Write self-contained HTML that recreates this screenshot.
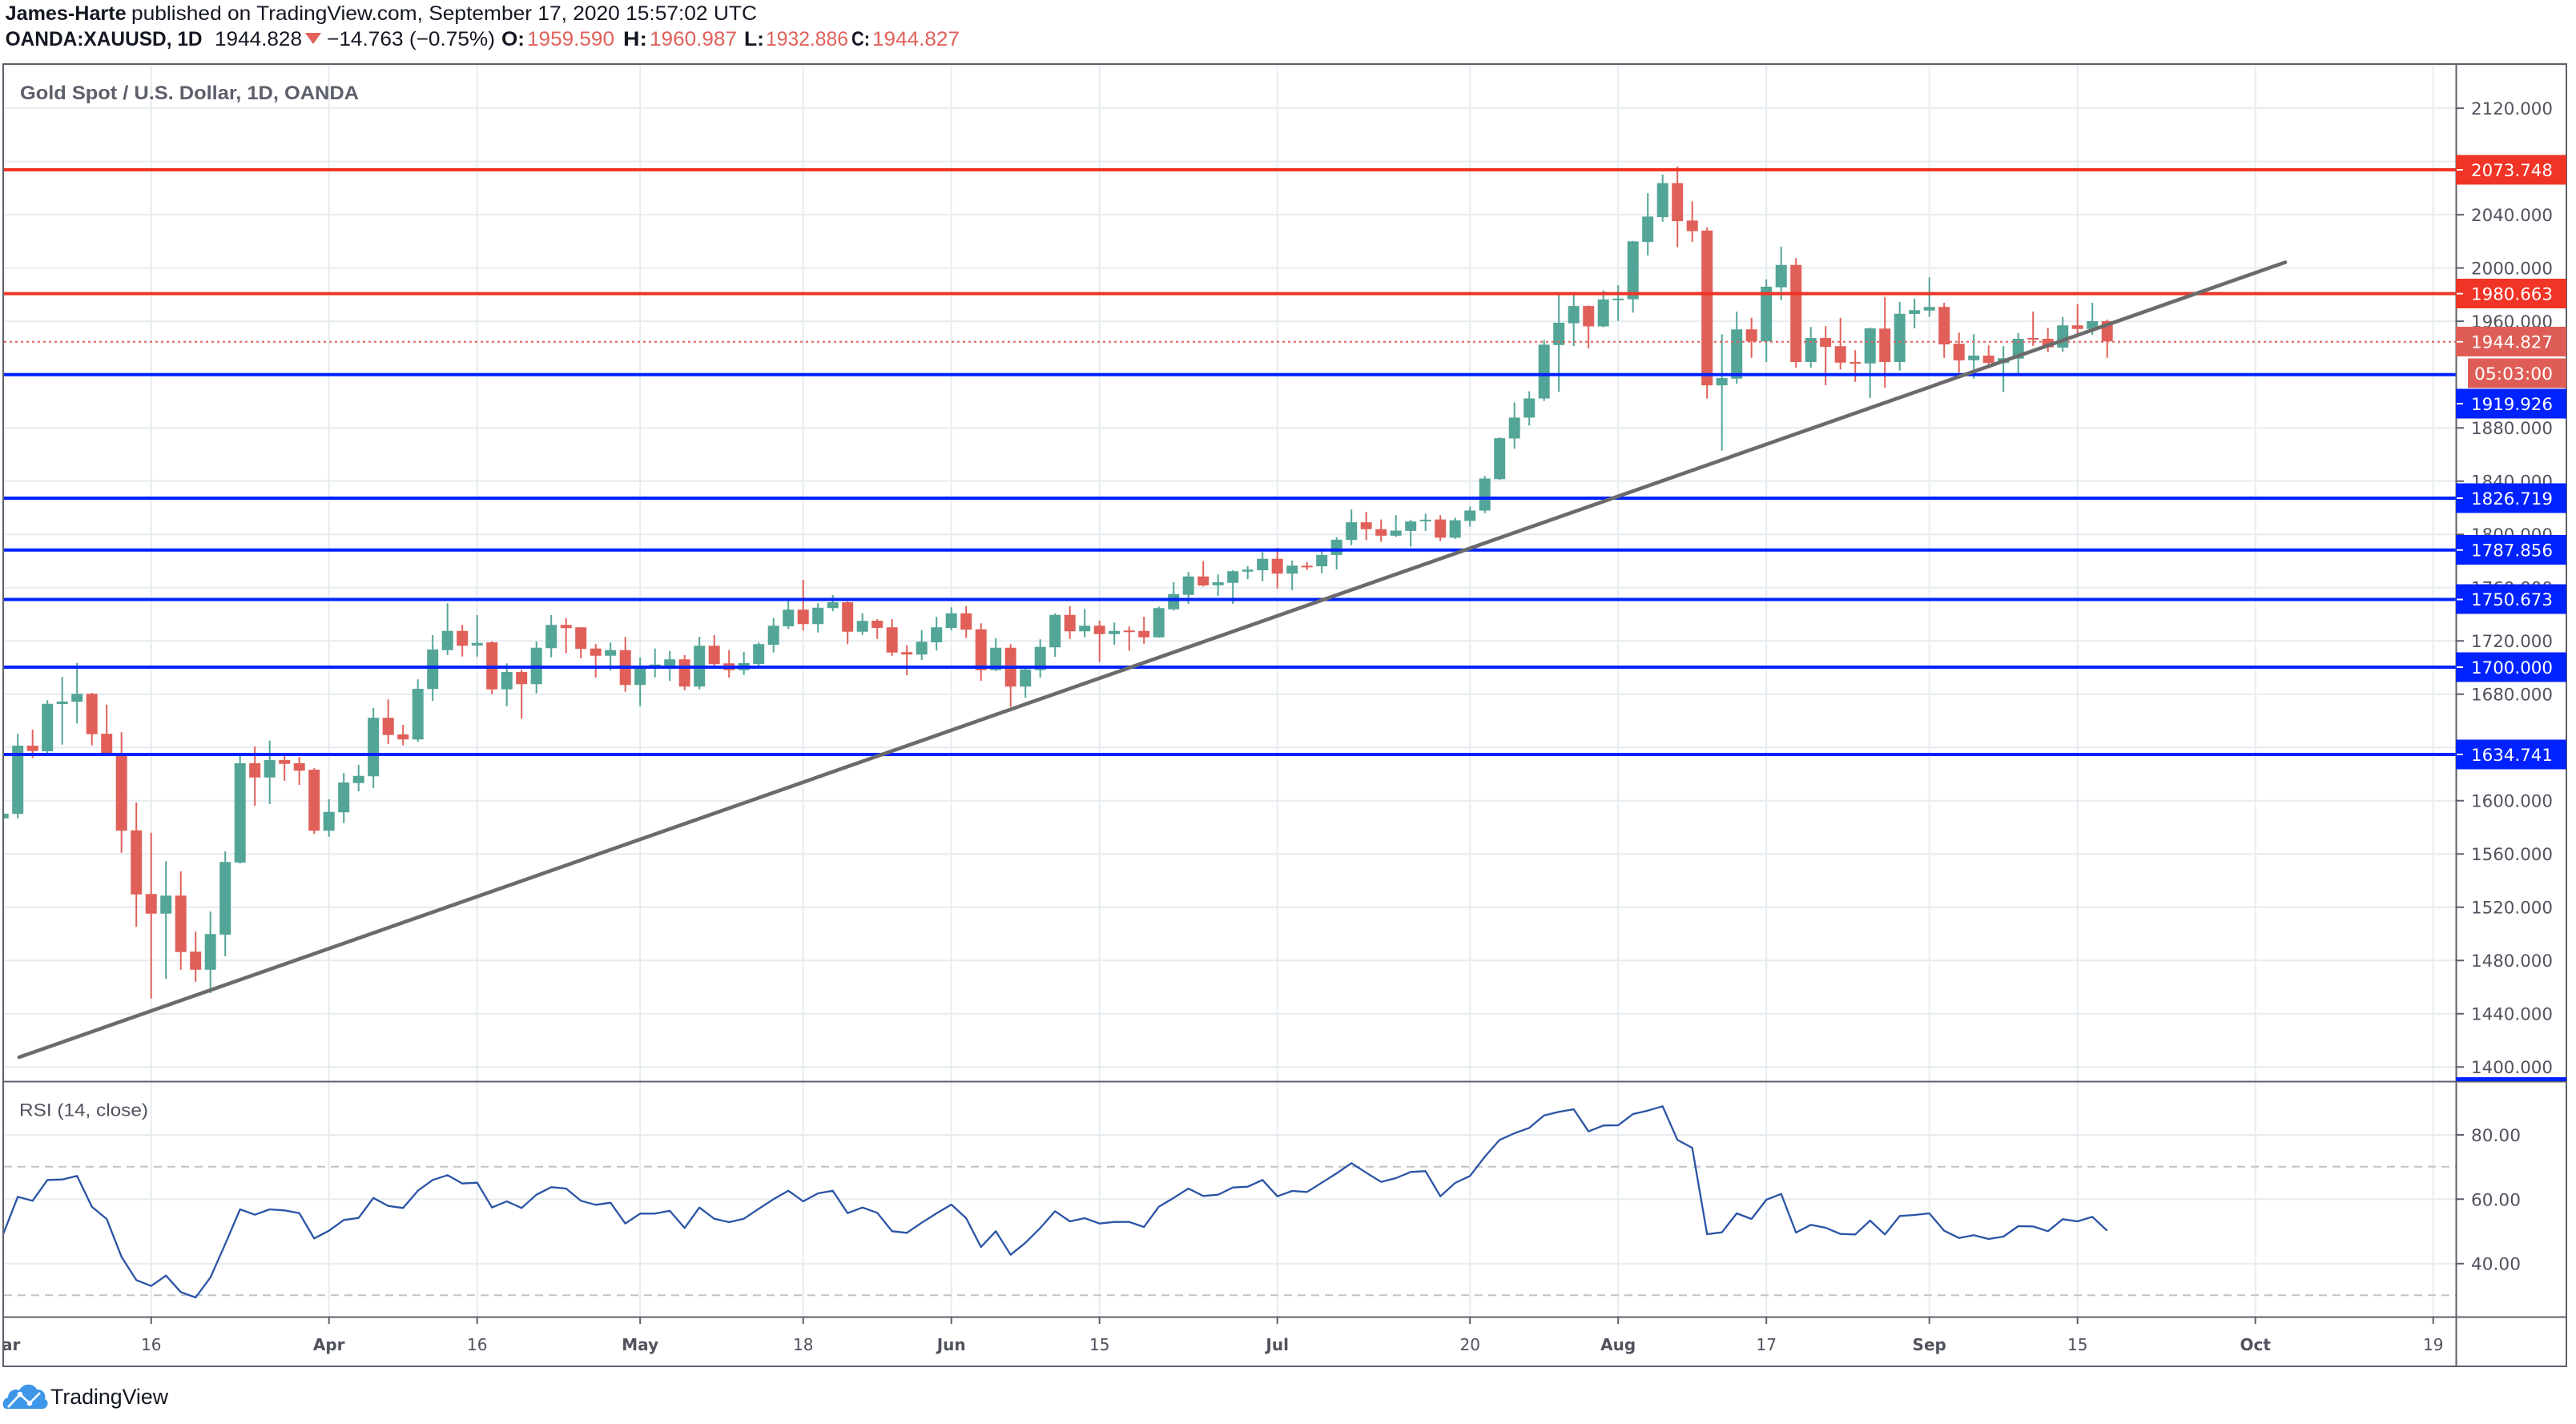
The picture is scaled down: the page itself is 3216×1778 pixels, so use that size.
<!DOCTYPE html>
<html><head><meta charset="utf-8"><style>
html,body{margin:0;padding:0;background:#fff;}
svg{display:block;}
</style></head><body>
<svg width="3216" height="1778" viewBox="0 0 3216 1778" xmlns="http://www.w3.org/2000/svg">
<defs>
<clipPath id="cm"><rect x="5" y="81" width="3061" height="1268"/></clipPath>
<clipPath id="cr"><rect x="5" y="1351" width="3061" height="292"/></clipPath>
<clipPath id="ct"><rect x="5" y="1645" width="3061" height="60"/></clipPath>
<clipPath id="ca"><rect x="3067" y="81" width="137" height="1268"/></clipPath>
</defs>
<rect width="3216" height="1778" fill="#fff"/>

<!-- Header -->
<g font-family="Liberation Sans, Arial, sans-serif" font-size="25" fill="#131722">
<text x="6.6" y="25" font-weight="bold" textLength="151" lengthAdjust="spacingAndGlyphs">James-Harte</text>
<text x="164" y="25" textLength="781" lengthAdjust="spacingAndGlyphs">published on TradingView.com, September 17, 2020 15:57:02 UTC</text>
<text x="6.6" y="57" font-weight="bold" textLength="246" lengthAdjust="spacingAndGlyphs">OANDA:XAUUSD, 1D</text>
<text x="268" y="57" textLength="109" lengthAdjust="spacingAndGlyphs">1944.828</text>
<text x="408" y="57" textLength="210" lengthAdjust="spacingAndGlyphs">−14.763 (−0.75%)</text>
<text x="626" y="57" font-weight="bold" textLength="29" lengthAdjust="spacingAndGlyphs">O:</text>
<text x="658" y="57" fill="#e0605a" textLength="109" lengthAdjust="spacingAndGlyphs">1959.590</text>
<text x="778" y="57" font-weight="bold" textLength="30" lengthAdjust="spacingAndGlyphs">H:</text>
<text x="811" y="57" fill="#e0605a" textLength="109" lengthAdjust="spacingAndGlyphs">1960.987</text>
<text x="929" y="57" font-weight="bold" textLength="25" lengthAdjust="spacingAndGlyphs">L:</text>
<text x="956" y="57" fill="#e0605a" textLength="103" lengthAdjust="spacingAndGlyphs">1932.886</text>
<text x="1063" y="57" font-weight="bold" textLength="23" lengthAdjust="spacingAndGlyphs">C:</text>
<text x="1089" y="57" fill="#e0605a" textLength="109" lengthAdjust="spacingAndGlyphs">1944.827</text>
</g>
<polygon points="381,41 401,41 391,55" fill="#e0605a"/>

<!-- Grid -->
<g stroke="#e6ecf0" stroke-width="2">
<path d="M5 135.1H3066M5 201.6H3066M5 268.1H3066M5 334.6H3066M5 401.1H3066M5 467.6H3066M5 534.2H3066M5 600.7H3066M5 667.2H3066M5 733.7H3066M5 800.2H3066M5 866.7H3066M5 933.2H3066M5 999.7H3066M5 1066.2H3066M5 1132.8H3066M5 1199.3H3066M5 1265.8H3066M5 1332.3H3066"/>
<path d="M5 1417H3066M5 1497.3H3066M5 1577.7H3066"/>
<path d="M188.7 81V1644M410.7 81V1644M595.7 81V1644M799.2 81V1644M1002.7 81V1644M1187.7 81V1644M1372.7 81V1644M1594.7 81V1644M1835.2 81V1644M2020.2 81V1644M2205.2 81V1644M2408.7 81V1644M2593.7 81V1644M2815.7 81V1644M3037.7 81V1644"/>
</g>
<g stroke="#c2c4c8" stroke-width="2" stroke-dasharray="10 7">
<path d="M5 1456.7H3066M5 1617.3H3066"/>
</g>

<!-- Main pane series -->
<g clip-path="url(#cm)">
<g stroke="#53a597" stroke-width="2" fill="none">
<path d="M3.7 1014V1022M22.2 916.3V1021.7M59.2 874.3V941M77.7 845.3V929.7M96.2 827.7V903.3M207.2 1075.3V1222.3M262.7 1138.3V1240M281.2 1063V1194M299.7 941.7V1078.3M336.7 924.7V1004M410.7 998V1044.7M429.2 965.3V1027.7M447.7 955V988M466.2 884V983.7M521.7 848.3V926.3M540.2 793V875.3M558.7 753.3V817.7M595.7 768V819.7M632.7 828.3V881.7M669.7 801V865.7M688.2 768V820.7M762.2 802.3V837.3M799.2 821V881.7M817.7 809.7V845.7M836.2 813V850.3M873.2 795V860.7M928.7 814V842.7M947.2 802.3V834.7M965.7 771.7V814.7M984.2 747V785.3M1021.2 753V789.7M1039.7 743V763.3M1076.7 765.7V792.7M1150.7 786.7V824M1169.2 770.3V812.3M1187.7 758.3V787.3M1243.2 797V837.7M1280.2 831.7V871M1298.7 798.3V846M1317.2 765.7V820M1354.2 760.3V795.7M1391.2 777.3V805M1446.7 757.3V796.3M1465.2 726.7V762.3M1483.7 714.3V754M1520.7 717.3V744M1539.2 712V754M1557.7 707V723.3M1576.2 689.3V725.7M1613.2 700V737M1650.2 687.5V716.1M1668.7 670.7V711.1M1687.2 636.1V680.7M1742.7 643.2V670.4M1761.2 648.9V682.5M1779.7 641.4V662.9M1816.7 646.4V672.9M1835.2 632.5V657.5M1853.7 594.3V640.7M1872.2 546.1V599.3M1890.7 502.5V560.4M1909.2 488.6V531.4M1927.7 424.3V500.7M1946.2 365V489.3M1964.7 365V432.1M2001.7 362.5V408.6M2020.2 356.1V400.7M2038.7 300.7V390.4M2057.2 241.1V318.9M2075.7 217.9V276.8M2149.7 417.5V562.5M2168.2 389.3V479M2205.2 348.7V452M2223.7 308V374.7M2260.7 408.3V459.3M2334.7 409V496.7M2371.7 377V462.7M2390.2 372.7V410M2408.7 346.3V395.7M2464.2 417.3V472.7M2501.2 432.3V489.3M2519.7 415.7V467.3M2575.2 395.7V439.3M2612.2 378V418.3"/>
</g>
<g stroke="#e06059" stroke-width="2" fill="none">
<path d="M40.7 911V946.3M114.7 865V930.7M133.2 879.7V944.3M151.7 914.3V1064.7M170.2 1002V1157.3M188.7 1039.7V1246.7M225.7 1088V1210.7M244.2 1163.3V1225.7M318.2 932V1006M355.2 942V974.7M373.7 945.3V980M392.2 959.3V1041.3M484.7 873.3V928.7M503.2 905V930.7M577.2 780.3V819.7M614.2 800.7V866.7M651.2 836V897.3M706.7 772V815.7M725.2 783.3V822M743.7 804.3V846M780.7 795.3V863.7M854.7 818V861.7M891.7 793V831.7M910.2 811.7V846M1002.7 724V787.3M1058.2 751V804.3M1095.2 773V797.7M1113.7 773V818.7M1132.2 805.7V843M1206.2 757V796.7M1224.7 778.3V850M1261.7 804.3V882.7M1335.7 757V797.7M1372.7 775V826.3M1409.7 782.3V812.3M1428.2 770V804M1502.2 700.7V732.3M1594.7 684V735M1631.7 701.8V711.8M1705.7 639.3V674.3M1724.2 648.6V676.4M1798.2 643.2V675.4M1983.2 381.4V435M2094.2 207.9V308.6M2112.7 251.4V302.1M2131.2 283.9V497.5M2186.7 396.7V446.7M2242.2 322.3V459.3M2279.2 407.3V481M2297.7 396.7V461.3M2316.2 437.3V476.7M2353.2 371.3V484M2427.2 378V446.7M2445.7 415.3V465.3M2482.7 431.3V460M2538.2 389V431.7M2556.7 409.3V439.7M2593.7 380V421.3M2630.7 399V446.7"/>
</g>
<path fill="#53a597" d="M-3.3 1016h14v5.7h-14zM15.2 931h14v85.3h-14zM52.2 878.7h14v59.3h-14zM70.7 876h14v3h-14zM89.2 866.3h14v10h-14zM200.2 1118.3h14v22.4h-14zM255.7 1166.3h14v44.4h-14zM274.2 1076.3h14v90.7h-14zM292.7 953h14v124h-14zM329.7 949h14v21.7h-14zM403.7 1013.7h14v23.6h-14zM422.2 977h14v37.3h-14zM440.7 968.7h14v9h-14zM459.2 896.3h14v73h-14zM514.7 860h14v63.3h-14zM533.2 811h14v49.3h-14zM551.7 787.7h14v24h-14zM588.7 802.7h14v3.3h-14zM625.7 839h14v21.7h-14zM662.7 808.7h14v45.6h-14zM681.2 780.3h14v29h-14zM755.2 811.7h14v7h-14zM792.2 831h14v24.3h-14zM810.7 829.7h14v2.3h-14zM829.2 823.3h14v8.7h-14zM866.2 806.3h14v51h-14zM921.7 828h14v8.7h-14zM940.2 804.3h14v24.7h-14zM958.7 781.3h14v23.7h-14zM977.2 761.3h14v20.7h-14zM1014.2 758.7h14v20.6h-14zM1032.7 752h14v7.3h-14zM1069.7 775.3h14v13.4h-14zM1143.7 801.3h14v16h-14zM1162.2 783.3h14v18.7h-14zM1180.7 765.7h14v18.3h-14zM1236.2 808.7h14v28h-14zM1273.2 835.7h14v21.6h-14zM1291.7 807.7h14v29h-14zM1310.2 767.7h14v40.6h-14zM1347.2 781.3h14v7h-14zM1384.2 787.7h14v4h-14zM1439.7 759.3h14v36.4h-14zM1458.2 741.7h14v19h-14zM1476.7 719.7h14v23h-14zM1513.7 727h14v3.7h-14zM1532.2 713.3h14v14.4h-14zM1550.7 711.3h14v2.4h-14zM1569.2 697.7h14v14.3h-14zM1606.2 706.3h14v10h-14zM1643.2 692.9h14v14.2h-14zM1661.7 673.9h14v19h-14zM1680.2 652.1h14v22.2h-14zM1735.7 662.5h14v6.4h-14zM1754.2 651.1h14v11.8h-14zM1772.7 648.9h14v2h-14zM1809.7 649.6h14v21.8h-14zM1828.2 637.5h14v12.9h-14zM1846.7 597.5h14v40h-14zM1865.2 547.1h14v51.1h-14zM1883.7 521.4h14v26.1h-14zM1902.2 497.5h14v23.9h-14zM1920.7 430.4h14v67.1h-14zM1939.2 402.9h14v27.8h-14zM1957.7 382.1h14v21.5h-14zM1994.7 373.9h14v33.6h-14zM2013.2 372.9h14v2h-14zM2031.7 301.4h14v72.2h-14zM2050.2 270.4h14v31.7h-14zM2068.7 228.6h14v42.5h-14zM2142.7 472.1h14v9h-14zM2161.2 411.3h14v61.4h-14zM2198.2 358h14v68.3h-14zM2216.7 330.7h14v28h-14zM2253.7 422h14v30h-14zM2327.7 410h14v43.7h-14zM2364.7 391.7h14v60.3h-14zM2383.2 387.3h14v4.7h-14zM2401.7 383.3h14v4.4h-14zM2457.2 444h14v5.7h-14zM2494.2 447.3h14v6h-14zM2512.7 423h14v24.7h-14zM2568.2 406.3h14v27.7h-14zM2605.2 401h14v9.7h-14z"/>
<path fill="#e06059" d="M33.7 931h14v6.7h-14zM107.7 866.3h14v50.4h-14zM126.2 916.3h14v24.7h-14zM144.7 940.3h14v97h-14zM163.2 1036.7h14v80h-14zM181.7 1116.3h14v24.4h-14zM218.7 1118.3h14v70.4h-14zM237.2 1188.3h14v22.4h-14zM311.2 953h14v17.7h-14zM348.2 949h14v4.7h-14zM366.7 953h14v9.3h-14zM385.2 961h14v76.3h-14zM477.7 896.3h14v21.4h-14zM496.2 917h14v6.3h-14zM570.2 787.7h14v18.6h-14zM607.2 802h14v58.7h-14zM644.2 839h14v15.3h-14zM699.7 780.3h14v4h-14zM718.2 783.3h14v27h-14zM736.7 809.7h14v9h-14zM773.7 811.7h14v43.6h-14zM847.7 823.3h14v34h-14zM884.7 806.3h14v23h-14zM903.2 828.3h14v8.4h-14zM995.7 761.3h14v18h-14zM1051.2 752h14v36.7h-14zM1088.2 775h14v9h-14zM1106.7 783.3h14v31.4h-14zM1125.2 814.3h14v3h-14zM1199.2 765.7h14v20.6h-14zM1217.7 785.7h14v51h-14zM1254.7 808.7h14v48.6h-14zM1328.7 767.7h14v20.6h-14zM1365.7 781.3h14v10.4h-14zM1402.7 787.3h14v2h-14zM1421.2 787.7h14v8h-14zM1495.2 719.7h14v11.3h-14zM1587.7 697.7h14v18.6h-14zM1624.7 706.4h14v2h-14zM1698.7 652.1h14v8.6h-14zM1717.2 660.7h14v8.2h-14zM1791.2 648.6h14v22.8h-14zM1976.2 382.1h14v25.4h-14zM2087.2 228.6h14v47.5h-14zM2105.7 275.4h14v13.2h-14zM2124.2 287.9h14v193.2h-14zM2179.7 411.3h14v15h-14zM2235.2 330.7h14v121.3h-14zM2272.2 422h14v11h-14zM2290.7 432.3h14v20.4h-14zM2309.2 452h14v2h-14zM2346.2 410.3h14v41.7h-14zM2420.2 383.3h14v46.7h-14zM2438.7 429.3h14v20.7h-14zM2475.7 444h14v9.3h-14zM2531.2 422h14v2h-14zM2549.7 423h14v10.7h-14zM2586.7 406.3h14v4.4h-14zM2623.7 401h14v25.3h-14z"/>

<!-- current price dotted line -->
<path d="M5 426.8H3066" stroke="#e0605a" stroke-width="2" stroke-dasharray="3 4"/>
<!-- horizontal levels -->
<g stroke-width="4">
<path d="M5 212H3066M5 366.6H3066" stroke="#f03426"/>
<path d="M5 467.8H3066M5 622H3066M5 686.7H3066M5 748.5H3066M5 833H3066M5 942H3066" stroke="#0022ff"/>
</g>
<!-- trend line -->
<line x1="24" y1="1320" x2="2853" y2="327.5" stroke="#6b6b6b" stroke-width="4.6" stroke-linecap="round"/>
<text x="25" y="124" font-family="Liberation Sans, Arial, sans-serif" font-size="24" font-weight="bold" fill="#5d606b" textLength="423" lengthAdjust="spacingAndGlyphs">Gold Spot / U.S. Dollar, 1D, OANDA</text>
</g>

<!-- RSI -->
<g clip-path="url(#cr)">
<polyline fill="none" stroke="#2a54a5" stroke-width="2.3" stroke-linejoin="round" points="3.7,1541.7 22.2,1494.3 40.7,1499.3 59.2,1473.3 77.7,1472.7 96.2,1468.3 114.7,1506.7 133.2,1522 151.7,1569.3 170.2,1598.3 188.7,1605.7 207.2,1592.7 225.7,1613.3 244.2,1620 262.7,1595 281.2,1553.3 299.7,1510 318.2,1516.7 336.7,1510 355.2,1511.3 373.7,1514.7 392.2,1546.3 410.7,1536.7 429.2,1523.3 447.7,1520.7 466.2,1495.7 484.7,1505.7 503.2,1508.3 521.7,1486.7 540.2,1473.3 558.7,1467.3 577.2,1477.7 595.7,1476.7 614.2,1507.7 632.7,1500 651.2,1508.3 669.7,1491.7 688.2,1482.3 706.7,1484 725.2,1499.3 743.7,1504.3 762.2,1501.7 780.7,1527.7 799.2,1515.3 817.7,1515.3 836.2,1511.7 854.7,1533.3 873.2,1507.7 891.7,1521.7 910.2,1526 928.7,1521.7 947.2,1509.3 965.7,1497.3 984.2,1486.7 1002.7,1500 1021.2,1490 1039.7,1486.7 1058.2,1514.7 1076.7,1507.7 1095.2,1514.3 1113.7,1537.3 1132.2,1539.3 1150.7,1526.7 1169.2,1515 1187.7,1504 1206.2,1521 1224.7,1557 1243.2,1537.3 1261.7,1566.7 1280.2,1551.7 1298.7,1533.3 1317.2,1512.3 1335.7,1525 1354.2,1521 1372.7,1527.7 1391.2,1525.7 1409.7,1525.7 1428.2,1532 1446.7,1506.7 1465.2,1495.7 1483.7,1484 1502.2,1493.3 1520.7,1491.7 1539.2,1482.7 1557.7,1481.7 1576.2,1473.3 1594.7,1493.7 1613.2,1487 1631.7,1488.3 1650.2,1476.7 1668.7,1465 1687.2,1452.3 1705.7,1464.3 1724.2,1475.7 1742.7,1471 1761.2,1463.3 1779.7,1462.3 1798.2,1493.7 1816.7,1477 1835.2,1468.3 1853.7,1444.3 1872.2,1423.3 1890.7,1415 1909.2,1408.3 1927.7,1392.7 1946.2,1388.3 1964.7,1385 1983.2,1412.7 2001.7,1405.3 2020.2,1405 2038.7,1391 2057.2,1386.7 2075.7,1381.3 2094.2,1423.3 2112.7,1433.3 2131.2,1541 2149.7,1538.7 2168.2,1515 2186.7,1522 2205.2,1498 2223.7,1490.7 2242.2,1539 2260.7,1529.3 2279.2,1533 2297.7,1540.7 2316.2,1541.3 2334.7,1524 2353.2,1541.3 2371.7,1518.3 2390.2,1517 2408.7,1515 2427.2,1536.7 2445.7,1545.7 2464.2,1542.3 2482.7,1547 2501.2,1544 2519.7,1531 2538.2,1531.3 2556.7,1537.3 2575.2,1522.3 2593.7,1525 2612.2,1519.3 2630.7,1536.7"/>
<text x="24" y="1393.5" font-family="Liberation Sans, Arial, sans-serif" font-size="22" fill="#50535e" textLength="161" lengthAdjust="spacingAndGlyphs">RSI (14, close)</text>
</g>

<!-- Frame -->
<g stroke="#5d606b" stroke-width="2" fill="none">
<rect x="4" y="80" width="3200" height="1626"/>
<path d="M4 1350.5H3204M4 1644.5H3204M3066.5 80V1706"/>
</g>

<!-- Price axis ticks & labels -->
<g stroke="#5d606b" stroke-width="2">
<path d="M3067 135.1h9M3067 268.1h9M3067 334.6h9M3067 401.1h9M3067 534.2h9M3067 600.7h9M3067 667.2h9M3067 733.7h9M3067 800.2h9M3067 866.7h9M3067 999.7h9M3067 1066.2h9M3067 1132.8h9M3067 1199.3h9M3067 1265.8h9M3067 1332.3h9"/>
<path d="M3067 1417h9M3067 1497.3h9M3067 1577.7h9"/>
</g>
<g font-family="DejaVu Sans, Liberation Sans, sans-serif" font-size="21.5" fill="#50535e" clip-path="url(#ca)">
<text x="3085" y="143" textLength="102" lengthAdjust="spacingAndGlyphs">2120.000</text>
<text x="3085" y="276" textLength="102" lengthAdjust="spacingAndGlyphs">2040.000</text>
<text x="3085" y="342.5" textLength="102" lengthAdjust="spacingAndGlyphs">2000.000</text>
<text x="3085" y="409" textLength="102" lengthAdjust="spacingAndGlyphs">1960.000</text>
<text x="3085" y="542" textLength="102" lengthAdjust="spacingAndGlyphs">1880.000</text>
<text x="3085" y="608.5" textLength="102" lengthAdjust="spacingAndGlyphs">1840.000</text>
<text x="3085" y="675" textLength="102" lengthAdjust="spacingAndGlyphs">1800.000</text>
<text x="3085" y="741.5" textLength="102" lengthAdjust="spacingAndGlyphs">1760.000</text>
<text x="3085" y="808" textLength="102" lengthAdjust="spacingAndGlyphs">1720.000</text>
<text x="3085" y="874.5" textLength="102" lengthAdjust="spacingAndGlyphs">1680.000</text>
<text x="3085" y="1007.5" textLength="102" lengthAdjust="spacingAndGlyphs">1600.000</text>
<text x="3085" y="1074" textLength="102" lengthAdjust="spacingAndGlyphs">1560.000</text>
<text x="3085" y="1140.5" textLength="102" lengthAdjust="spacingAndGlyphs">1520.000</text>
<text x="3085" y="1207" textLength="102" lengthAdjust="spacingAndGlyphs">1480.000</text>
<text x="3085" y="1273.5" textLength="102" lengthAdjust="spacingAndGlyphs">1440.000</text>
<text x="3085" y="1340" textLength="102" lengthAdjust="spacingAndGlyphs">1400.000</text>
</g>
<g font-family="DejaVu Sans, Liberation Sans, sans-serif" font-size="21.5" fill="#50535e">
<text x="3085" y="1425" textLength="62" lengthAdjust="spacingAndGlyphs">80.00</text>
<text x="3085" y="1505.3" textLength="62" lengthAdjust="spacingAndGlyphs">60.00</text>
<text x="3085" y="1585.7" textLength="62" lengthAdjust="spacingAndGlyphs">40.00</text>
</g>

<!-- Price label boxes -->
<g>
<rect x="3066" y="193.5" width="138" height="37" fill="#f03426"/>
<rect x="3066" y="348" width="138" height="37" fill="#f03426"/>
<rect x="3066" y="408" width="138" height="37" fill="#de5e57"/>
<rect x="3081" y="447.5" width="123" height="37" fill="#de5e57"/>
<rect x="3066" y="485.5" width="138" height="37" fill="#0022ff"/>
<rect x="3066" y="603.5" width="138" height="37" fill="#0022ff"/>
<rect x="3066" y="668" width="138" height="37" fill="#0022ff"/>
<rect x="3066" y="729.5" width="138" height="37" fill="#0022ff"/>
<rect x="3066" y="814.5" width="138" height="37" fill="#0022ff"/>
<rect x="3066" y="923.5" width="138" height="37" fill="#0022ff"/>
<rect x="3066" y="1345" width="138" height="5" fill="#0022ff"/>
</g>
<g stroke="#fff" stroke-width="2">
<path d="M3067 212h8M3067 366.6h8M3067 426.8h8M3067 504h8M3067 622h8M3067 686.7h8M3067 748.5h8M3067 833h8M3067 942h8"/>
</g>
<g font-family="DejaVu Sans, Liberation Sans, sans-serif" font-size="21.5" fill="#fff">
<text x="3085" y="220" textLength="102" lengthAdjust="spacingAndGlyphs">2073.748</text>
<text x="3085" y="374.5" textLength="102" lengthAdjust="spacingAndGlyphs">1980.663</text>
<text x="3085" y="434.5" textLength="102" lengthAdjust="spacingAndGlyphs">1944.827</text>
<text x="3089" y="474" textLength="98" lengthAdjust="spacingAndGlyphs">05:03:00</text>
<text x="3085" y="512" textLength="102" lengthAdjust="spacingAndGlyphs">1919.926</text>
<text x="3085" y="630" textLength="102" lengthAdjust="spacingAndGlyphs">1826.719</text>
<text x="3085" y="694.5" textLength="102" lengthAdjust="spacingAndGlyphs">1787.856</text>
<text x="3085" y="756" textLength="102" lengthAdjust="spacingAndGlyphs">1750.673</text>
<text x="3085" y="841" textLength="102" lengthAdjust="spacingAndGlyphs">1700.000</text>
<text x="3085" y="950" textLength="102" lengthAdjust="spacingAndGlyphs">1634.741</text>
</g>

<!-- Time axis -->
<g stroke="#5d606b" stroke-width="2">
<path d="M188.7 1645v8M410.7 1645v8M595.7 1645v8M799.2 1645v8M1002.7 1645v8M1187.7 1645v8M1372.7 1645v8M1594.7 1645v8M1835.2 1645v8M2020.2 1645v8M2205.2 1645v8M2408.7 1645v8M2593.7 1645v8M2815.7 1645v8M3037.7 1645v8"/>
</g>
<g font-family="DejaVu Sans, Liberation Sans, sans-serif" font-size="20" fill="#50535e" text-anchor="middle" clip-path="url(#ct)">
<text x="3.7" y="1686" font-weight="bold">Mar</text>
<text x="188.7" y="1686">16</text>
<text x="410.7" y="1686" font-weight="bold">Apr</text>
<text x="595.7" y="1686">16</text>
<text x="799.2" y="1686" font-weight="bold">May</text>
<text x="1002.7" y="1686">18</text>
<text x="1187.7" y="1686" font-weight="bold">Jun</text>
<text x="1372.7" y="1686">15</text>
<text x="1594.7" y="1686" font-weight="bold">Jul</text>
<text x="1835.2" y="1686">20</text>
<text x="2020.2" y="1686" font-weight="bold">Aug</text>
<text x="2205.2" y="1686">17</text>
<text x="2408.7" y="1686" font-weight="bold">Sep</text>
<text x="2593.7" y="1686">15</text>
<text x="2815.7" y="1686" font-weight="bold">Oct</text>
<text x="3037.7" y="1686">19</text>
</g>

<!-- TradingView logo -->
<g>
<path d="M8 1759 C2 1759 2 1746 10 1745 C10 1737 18 1733 24 1736 C28 1727 42 1726 46 1735 C54 1734 58 1742 56 1747 C62 1749 60 1759 53 1759 Z" fill="#3d96e8"/>
<polyline points="10,1757 25,1741 37,1752 50,1739" fill="none" stroke="#fff" stroke-width="2.6"/>
<circle cx="25" cy="1741" r="3.3" fill="#fff"/>
<circle cx="37" cy="1752" r="3.3" fill="#fff"/>
<text x="63" y="1753" font-family="Liberation Sans, Arial, sans-serif" font-size="27" fill="#131722" textLength="147" lengthAdjust="spacingAndGlyphs">TradingView</text>
</g>
</svg>
</body></html>
